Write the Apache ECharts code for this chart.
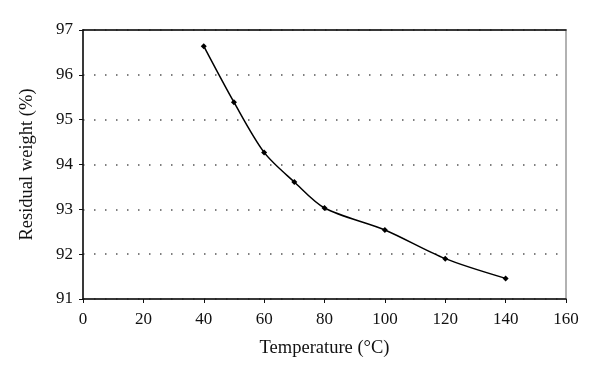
<!DOCTYPE html>
<html>
<head>
<meta charset="utf-8">
<script src="https://cdn.jsdelivr.net/npm/echarts@6/dist/echarts.min.js"></script>
<style>html,body{margin:0;padding:0;background:#fff}#c{width:600px;height:380px}</style>
</head>
<body>
<div id="c"></div>
<script>
var temperature = [40, 50, 60, 70, 80, 100, 120, 140];
var residualWeight = [96.64, 95.39, 94.27, 93.61, 93.03, 92.54, 91.9, 91.46];
var xTicks = [0, 20, 40, 60, 80, 100, 120, 140, 160];
var yTicks = [91, 92, 93, 94, 95, 96, 97];

var font = 'Liberation Serif';
var chart = echarts.init(document.getElementById('c'), null, {renderer: 'canvas'});
chart.setOption({
  animation: false,
  backgroundColor: '#fff',
  grid: {left: 83, right: 34, top: 30, bottom: 81, show: true, borderColor: '#999', borderWidth: 1.5, backgroundColor: 'transparent'},
  xAxis: [{
    type: 'value', min: xTicks[0], max: xTicks[xTicks.length - 1], interval: 20,
    name: 'Temperature (°C)', nameLocation: 'middle', nameGap: 40,
    nameTextStyle: {fontFamily: font, fontSize: 18.5, color: '#111'},
    axisLine: {show: true, onZero: false, lineStyle: {color: '#111', width: 1.5}},
    axisTick: {show: true, length: 4, lineStyle: {color: '#111'}},
    axisLabel: {fontFamily: font, fontSize: 17, color: '#111', margin: 12},
    splitLine: {show: false}
  }, {
    type: 'value', position: 'top', min: xTicks[0], max: xTicks[xTicks.length - 1], interval: 20,
    axisLine: {show: true, lineStyle: {color: '#111', width: 1.5}},
    axisTick: {show: false}, axisLabel: {show: false}, splitLine: {show: false}
  }],
  yAxis: {
    type: 'value', min: yTicks[0], max: yTicks[yTicks.length - 1], interval: 1,
    name: 'Residual weight (%)', nameLocation: 'middle', nameGap: 46,
    nameTextStyle: {fontFamily: font, fontSize: 18.5, color: '#111'},
    axisLine: {show: true, onZero: false, lineStyle: {color: '#111', width: 1.5}},
    axisTick: {show: true, length: 4, lineStyle: {color: '#111'}},
    axisLabel: {fontFamily: font, fontSize: 17, color: '#111', margin: 10},
    splitLine: {show: true, lineStyle: {color: '#555', width: 1.5, type: [1.5, 9.5]}}
  },
  series: [{
    type: 'line', xAxisIndex: 0,
    data: temperature.map(function (t, i) { return [t, residualWeight[i]]; }),
    smooth: 0.3,
    symbol: 'diamond', symbolSize: 6,
    itemStyle: {color: '#000'},
    lineStyle: {color: '#000', width: 1.5}
  }]
});
</script>
</body>
</html>
